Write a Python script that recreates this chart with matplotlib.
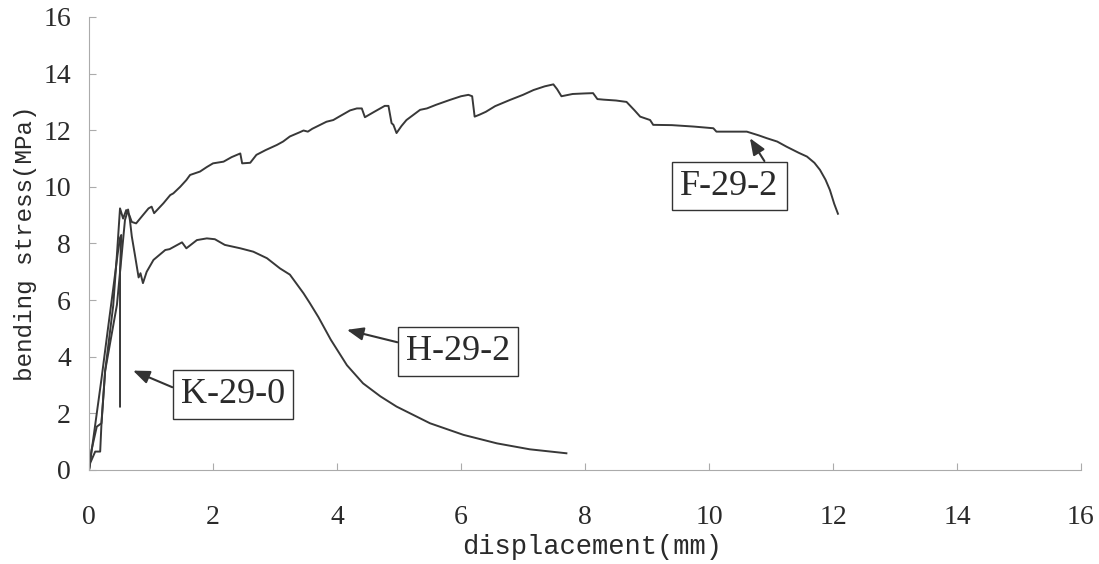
import matplotlib
import matplotlib.pyplot as plt

matplotlib.use('Agg')

# F-29-2 curve (displacement mm, bending stress MPa)
f_x = [0, 0.02, 0.1, 0.18, 0.2, 0.26, 0.39, 0.45, 0.5, 0.55, 0.6, 0.65, 0.69, 0.76,
       0.85, 0.96, 1.01, 1.05, 1.2, 1.31, 1.36, 1.47, 1.57, 1.63, 1.79, 1.9, 2.0,
       2.17, 2.3, 2.44, 2.47, 2.6, 2.7, 2.85, 3.03, 3.13, 3.24, 3.4, 3.46, 3.53,
       3.6, 3.83, 3.94, 4.05, 4.21, 4.32, 4.4, 4.45, 4.6, 4.77, 4.83, 4.88, 4.91,
       4.96, 5.04, 5.12, 5.34, 5.45, 5.6, 5.82, 6.0, 6.12, 6.18, 6.22, 6.3, 6.4,
       6.55, 6.79, 7.0, 7.17, 7.35, 7.49, 7.55, 7.62, 7.8, 8.0, 8.13, 8.2, 8.3,
       8.5, 8.67, 8.8, 8.89, 9.05, 9.1, 9.4, 9.75, 10.07, 10.12, 10.4, 10.61,
       10.8, 10.93, 11.1, 11.25, 11.45, 11.58, 11.7, 11.79, 11.88, 11.95, 12.02,
       12.08]
f_y = [0, 0.25, 0.65, 0.65, 1.6, 3.5, 5.8, 7.6, 9.24, 8.88, 9.18, 9.0, 8.76, 8.71,
       8.95, 9.24, 9.3, 9.07, 9.42, 9.71, 9.77, 10.0, 10.24, 10.42, 10.54, 10.7,
       10.83, 10.89, 11.05, 11.18, 10.83, 10.85, 11.13, 11.3, 11.48, 11.6, 11.78,
       11.93, 11.99, 11.95, 12.05, 12.3, 12.36, 12.5, 12.7, 12.77, 12.77, 12.46,
       12.65, 12.86, 12.86, 12.25, 12.19, 11.9, 12.15, 12.36, 12.72, 12.77, 12.9,
       13.07, 13.2, 13.25, 13.2, 12.48, 12.55, 12.65, 12.85, 13.07, 13.25, 13.42,
       13.55, 13.62, 13.45, 13.2, 13.28, 13.3, 13.31, 13.1, 13.08, 13.05, 13.0,
       12.7, 12.48, 12.36, 12.19, 12.18, 12.13, 12.07, 11.95, 11.95, 11.95, 11.82,
       11.72, 11.6, 11.42, 11.2, 11.07, 10.85, 10.6, 10.25, 9.89, 9.4, 9.05]

# H-29-2 curve
h_x = [0, 0.04, 0.125, 0.2, 0.26, 0.45, 0.58, 0.63, 0.66, 0.69, 0.74, 0.8, 0.83,
       0.87, 0.93, 1.04, 1.23, 1.3, 1.5, 1.57, 1.74, 1.9, 2.03, 2.19, 2.44, 2.65,
       2.87, 3.08, 3.24, 3.46, 3.56, 3.7, 3.9, 4.16, 4.42, 4.7, 4.96, 5.5, 6.04,
       6.58, 7.11, 7.7]
h_y = [0, 0.7, 1.53, 1.65, 3.5, 5.83, 8.83, 9.2, 8.82, 8.25, 7.6, 6.8, 6.95, 6.6,
       7.0, 7.42, 7.77, 7.8, 8.04, 7.83, 8.12, 8.18, 8.15, 7.95, 7.83, 7.71, 7.48,
       7.12, 6.9, 6.24, 5.9, 5.4, 4.6, 3.7, 3.06, 2.6, 2.24, 1.65, 1.24, 0.94,
       0.73, 0.59]

# K-29-0 curve
k_x = [0, 0.1, 0.2, 0.3, 0.39, 0.46, 0.5, 0.52, 0.5, 0.5]
k_y = [0, 1.6, 3.2, 4.9, 6.4, 7.6, 8.2, 8.3, 7.0, 2.24]

x_ticks = [0, 2, 4, 6, 8, 10, 12, 14, 16]
y_ticks = [0, 2, 4, 6, 8, 10, 12, 14, 16]

line_color = '#383838'
axis_color = '#ababab'
text_color = '#2a2a2a'

fig = plt.figure(figsize=(10.99, 5.64), dpi=100)
ax = fig.add_axes([0.081, 0.1667, 0.9026, 0.8032])

ax.plot(f_x, f_y, color=line_color, lw=1.4)
ax.plot(h_x, h_y, color=line_color, lw=1.4)
ax.plot(k_x, k_y, color=line_color, lw=1.4)

ax.set_xlim(0, 16)
ax.set_ylim(0, 16)
ax.set_xticks(x_ticks)
ax.set_yticks(y_ticks)
ax.set_xticklabels([str(t) for t in x_ticks], family='Liberation Serif', fontsize=20, color=text_color)
ax.set_yticklabels([str(t) for t in y_ticks], family='Liberation Serif', fontsize=20, color=text_color)
ax.tick_params(axis='both', direction='in', length=5, width=0.8, color=axis_color)
ax.tick_params(axis='x', pad=25)
ax.tick_params(axis='y', pad=13)

for side in ['top', 'right']:
    ax.spines[side].set_visible(False)
for side in ['left', 'bottom']:
    ax.spines[side].set_color(axis_color)
    ax.spines[side].set_linewidth(0.8)

ax.set_xlabel('displacement(mm)', family='Liberation Mono', fontsize=19.5, color=text_color)
ax.set_ylabel('bending stress(MPa)', family='Liberation Mono', fontsize=17.5, color=text_color)
ax.xaxis.set_label_coords(0.507, -0.142)
ax.yaxis.set_label_coords(-0.052, 0.5)

box = dict(boxstyle='square,pad=0.22', fc='white', ec='#333333', lw=1.0)


def label(name, text_xy, tip_xy, relpos):
    ax.annotate(name, xy=tip_xy, xytext=text_xy, ha='center', va='center',
                family='Liberation Serif', fontsize=26, color=text_color, bbox=box,
                arrowprops=dict(arrowstyle='-|>,head_length=0.55,head_width=0.22',
                                color='#333333', lw=1.5, mutation_scale=18,
                                shrinkA=0, shrinkB=0, relpos=relpos))


label('K-29-0', (2.32, 2.68), (0.71, 3.51), (0, 0.6))
label('H-29-2', (5.95, 4.17), (4.16, 4.95), (0, 0.73))
label('F-29-2', (10.33, 10.03), (10.66, 11.72), (0.91, 1))

plt.savefig('out.png', dpi=100)
plt.close()
